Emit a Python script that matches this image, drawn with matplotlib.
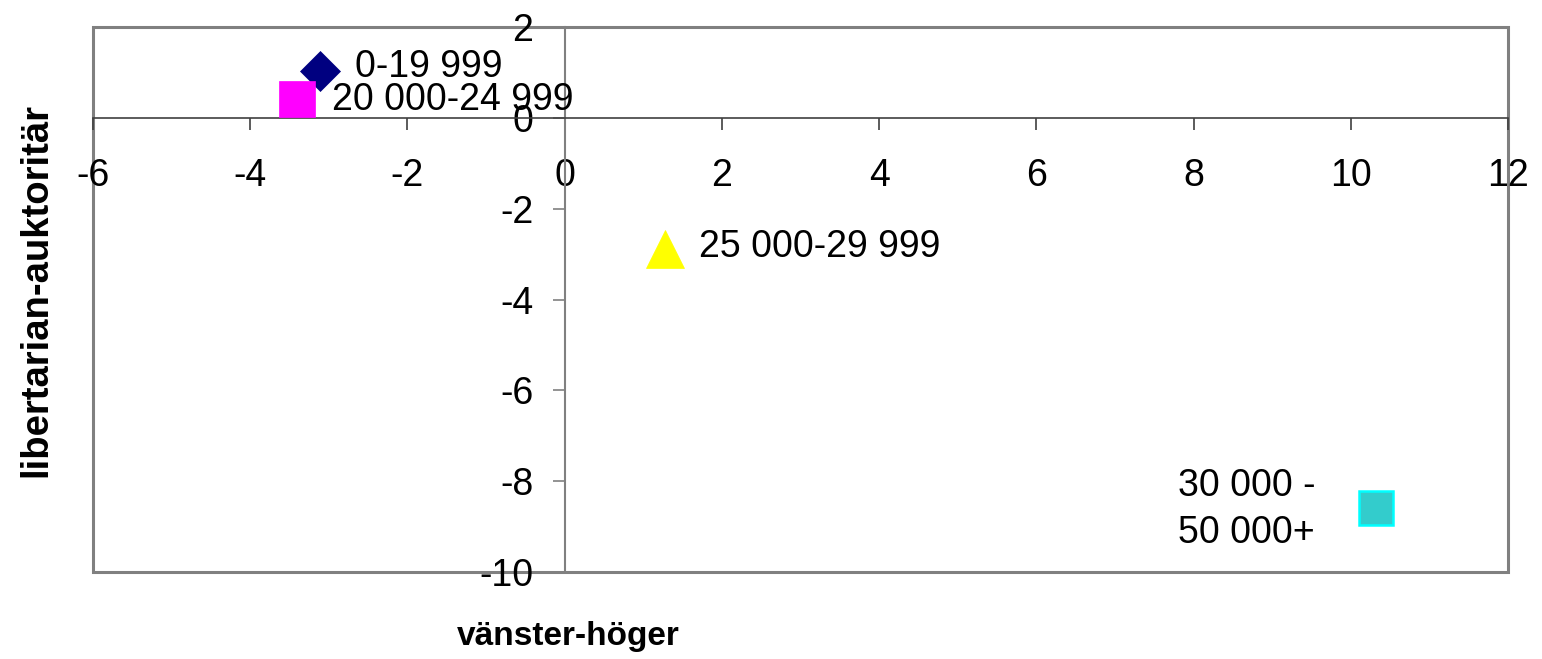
"""
plot.py
Scatter of income groups on a left-right / libertarian-authoritarian plane.
"""
import matplotlib
matplotlib.use("Agg")
import matplotlib.pyplot as plt
from matplotlib.patches import Rectangle

# Data
groups = ["0-19 999", "20 000-24 999", "25 000-29 999", "30 000 -\n50 000+"]
x_vals = [-3.11, -3.40, 1.28, 10.32]
y_vals = [1.04, 0.42, -2.88, -8.59]

x_ticks = [-6, -4, -2, 0, 2, 4, 6, 8, 10, 12]
y_ticks = [-10, -8, -6, -4, -2, 0, 2]

plt.rcParams["font.family"] = ["Liberation Sans", "DejaVu Sans"]

def main():
    fig = plt.figure(figsize=(15.42, 6.59), dpi=100)
    ax = fig.add_axes([0.0603, 0.132, 0.9177, 0.827])

    # marker styles per group
    styles = [
        dict(marker="D", ms=20.5, mfc="#000080", mec="#000080", mew=0.5),
        dict(marker="s", ms=25.5, mfc="#FF00FF", mec="#FF00FF", mew=0.5),
        dict(marker="^", ms=27.5, mfc="#FFFF00", mec="#FFFF00", mew=0.5),
        dict(marker="s", ms=24.5, mfc="#33CCCC", mec="#00FFFF", mew=1.8),
    ]
    # label offsets in points
    offsets = [(25, 2.5), (25, -1), (24, 1.5), (-93, -1)]
    aligns = ["left", "left", "left", "center"]

    for i in range(len(groups)):
        ax.plot(x_vals[i], y_vals[i], linestyle="none", zorder=3, **styles[i])
        ax.annotate(groups[i], (x_vals[i], y_vals[i]), xytext=offsets[i],
                    textcoords="offset points", ha=aligns[i], va="center",
                    fontsize=27, linespacing=1.4, zorder=4)

    ax.set_xlim(-6, 12)
    ax.set_ylim(-10, 2)
    ax.set_xticks(x_ticks)
    ax.set_yticks(y_ticks)
    ax.set_xticklabels([str(v) for v in x_ticks])
    ax.set_yticklabels([str(v) for v in y_ticks])

    # axes cross at origin, Excel style
    ax.spines["left"].set_position(("data", 0))
    ax.spines["bottom"].set_position(("data", 0))
    ax.spines["top"].set_visible(False)
    ax.spines["right"].set_visible(False)
    ax.spines["bottom"].set_color("#404040")
    ax.spines["bottom"].set_linewidth(1.2)
    ax.spines["left"].set_color("#808080")
    ax.spines["left"].set_linewidth(1.5)

    ax.tick_params(axis="x", direction="out", length=8.6, width=1.2,
                   color="#404040", labelsize=27, pad=20)
    ax.tick_params(axis="y", direction="out", length=8.6, width=1.2,
                   color="#808080", labelsize=27, pad=14)

    # outer plot-area border
    ax.add_patch(Rectangle((0, 0), 1, 1, transform=ax.transAxes, fill=False,
                           edgecolor="#808080", linewidth=2.2, clip_on=False,
                           zorder=1))

    ax.set_xlabel("vänster-höger", fontsize=24, fontweight="bold")
    ax.xaxis.set_label_coords(0.336, -0.09)
    ax.set_ylabel("libertarian-auktoritär", fontsize=27.5, fontweight="bold")
    ax.yaxis.set_label_coords(-0.027, 0.517)

    fig.savefig("out.png", dpi=100)
    plt.close(fig)

if __name__ == "__main__":
    main()
